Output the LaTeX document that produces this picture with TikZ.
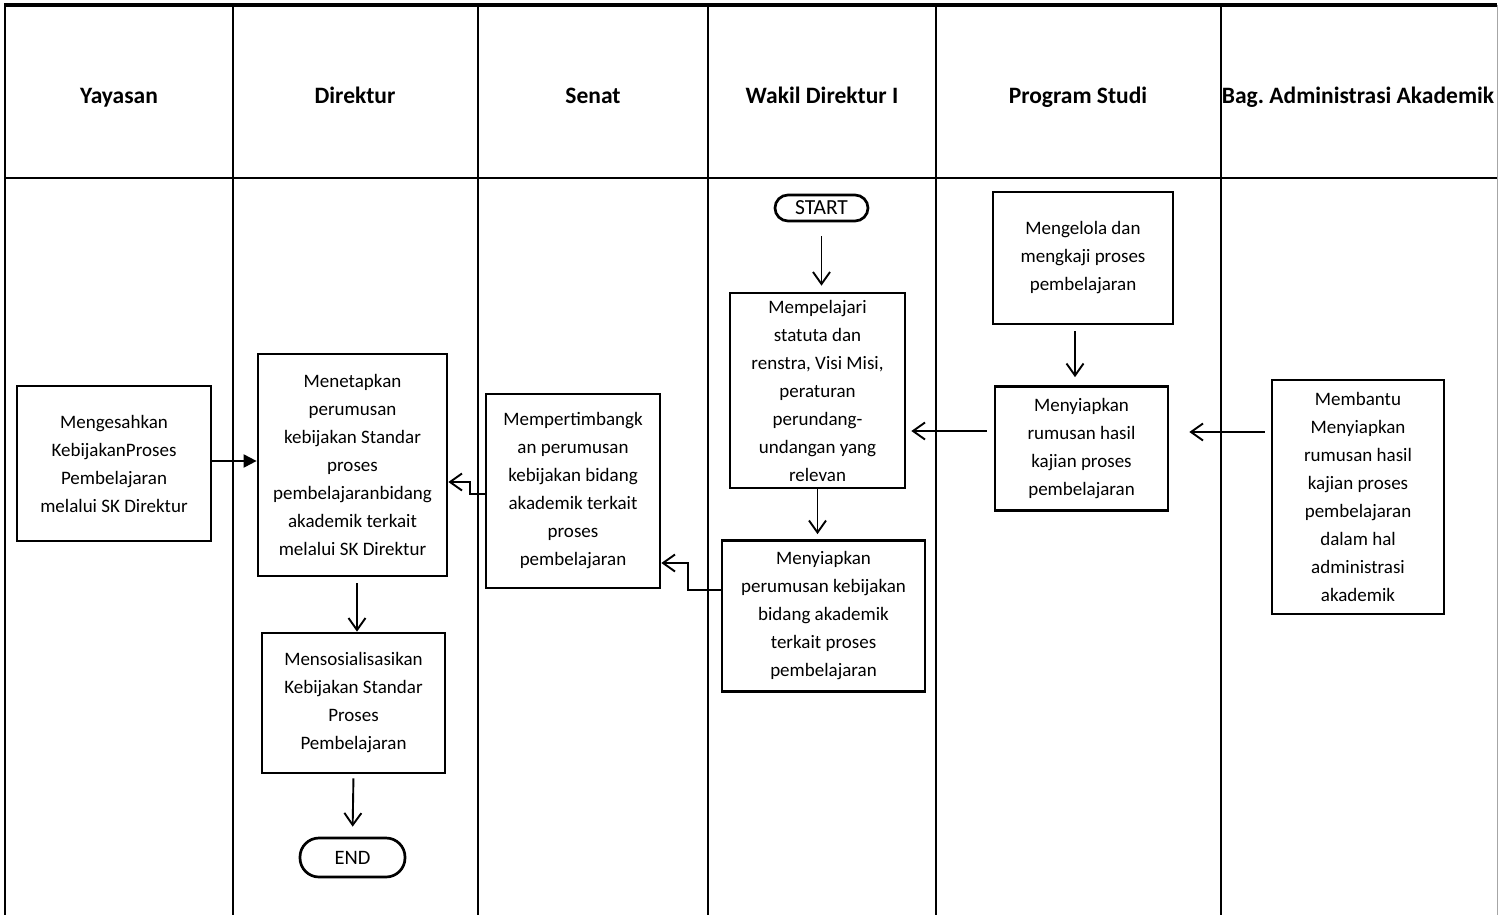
\documentclass[tikz,border=0pt]{standalone}
\usepackage{fontspec}
\setmainfont{Carlito}
\usetikzlibrary{arrows.meta}
\frenchspacing

\begin{document}
\begin{tikzpicture}[x=1pt, y=-1pt,
    lane/.style={line width=2.4pt},
    box/.style={draw, line width=2.7pt, align=center, inner sep=0pt,
      font=\fontsize{19}{28}\selectfont},
    term/.style={box, rounded corners=#1},
    flow/.style={-{Straight Barb[length=12pt,width=17pt]}, line width=1.9pt},
    head/.style={anchor=base, font=\fontsize{23.5}{26}\selectfont\bfseries}]
  \useasboundingbox (0,0) rectangle (1498,915);

  % Kerangka swimlane
  \foreach \x in {5,233,478,708,936,1221}{
    \draw[lane] (\x,5) -- (\x,915);
  }
  \draw[line width=3.5pt] (4,5) -- (1497,5);
  \draw[lane] (4,178) -- (1497,178);
  \draw[gray!70, line width=1pt] (1497,5) -- (1497,915);

  % Judul kolom
  \foreach \x/\t/\n in {119/Yayasan/hYay, 355/Direktur/hDir, 593/Senat/hSen,
      822/Wakil Direktur I/hWd, 1078/Program Studi/hProdi,
      1358/Bag. Administrasi Akademik/hBaa}{
    \node[head] (\n) at (\x,103) {\t};
  }

  % Wakil Direktur I
  \node[term=13pt, minimum width=93pt, minimum height=26pt,
    font=\fontsize{21.5}{24}\selectfont] (start) at (821.5,208) {START};
  \node[box, minimum width=175pt, minimum height=195pt] (pel) at (817.5,390.5)
    {Mempelajari\\statuta dan\\renstra, Visi Misi,\\peraturan\\perundang-\\undangan yang\\relevan};
  \node[box, minimum width=203pt, minimum height=151pt] (siap) at (823.5,616)
    {Menyiapkan\\perumusan kebijakan\\bidang akademik\\terkait proses\\pembelajaran};

  % Program Studi
  \node[box, minimum width=180pt, minimum height=132pt] (kelola) at (1083,258)
    {Mengelola dan\\mengkaji proses\\pembelajaran};
  \node[box, minimum width=173pt, minimum height=124pt] (hasil) at (1081.5,448.5)
    {Menyiapkan\\rumusan hasil\\kajian proses\\pembelajaran};

  % Bag. Administrasi Akademik
  \node[box, minimum width=172pt, minimum height=234pt] (bantu) at (1358,497)
    {Membantu\\Menyiapkan\\rumusan hasil\\kajian proses\\pembelajaran\\dalam hal\\administrasi\\akademik};

  % Senat
  \node[box, minimum width=174pt, minimum height=194pt] (sen) at (573,491)
    {Mempertimbangk\\an perumusan\\kebijakan bidang\\akademik terkait\\proses\\pembelajaran};

  % Direktur
  \node[box, minimum width=189pt, minimum height=222pt] (dir) at (352.5,465)
    {Menetapkan\\perumusan\\kebijakan Standar\\proses\\pembelajaranbidang\\akademik terkait\\melalui SK Direktur};
  \node[box, minimum width=183pt, minimum height=140pt] (sos) at (353.5,703)
    {Mensosialisasikan\\Kebijakan Standar\\Proses\\Pembelajaran};
  \node[term=19pt, minimum width=105pt, minimum height=39pt,
    font=\fontsize{20.5}{24}\selectfont] (end) at (352.5,857.5) {END};

  % Yayasan
  \node[box, minimum width=194pt, minimum height=155pt] (yay) at (114,463.5)
    {Mengesahkan\\KebijakanProses\\Pembelajaran\\melalui SK Direktur};

  % Alur
  \draw[flow, shorten <=14pt, shorten >=6pt] (start.south) -- (start.south |- pel.north);
  \draw[flow, shorten >=5pt] (pel.south) -- (pel.south |- siap.north);
  \draw[flow, shorten <=6pt, shorten >=8pt] (kelola.south -| 1075,0) -- (hasil.north -| 1075,0);
  \draw[flow, shorten <=7pt, shorten >=5pt] (hasil.west |- 0,431) -- (pel.east |- 0,431);
  \draw[flow, shorten <=6pt, shorten >=20pt] (bantu.west |- 0,432) -- (hasil.east |- 0,432);
  \draw[flow] (siap.west |- 0,590) -- ++(-33,0) |- (sen.east |- 0,563);
  \draw[flow] (sen.west |- 0,494) -- ++(-15,0) |- (dir.east |- 0,482);
  \draw[-{Triangle[length=13pt,width=13pt]}, line width=1.9pt] (yay.east |- 0,461) -- (dir.west |- 0,461);
  \draw[flow, shorten <=6pt] (dir.south -| 357,0) -- (sos.north -| 357,0);
  \draw[flow, shorten <=4pt, shorten >=10pt] (sos.south) -- (end.north);

\end{tikzpicture}
\end{document}
